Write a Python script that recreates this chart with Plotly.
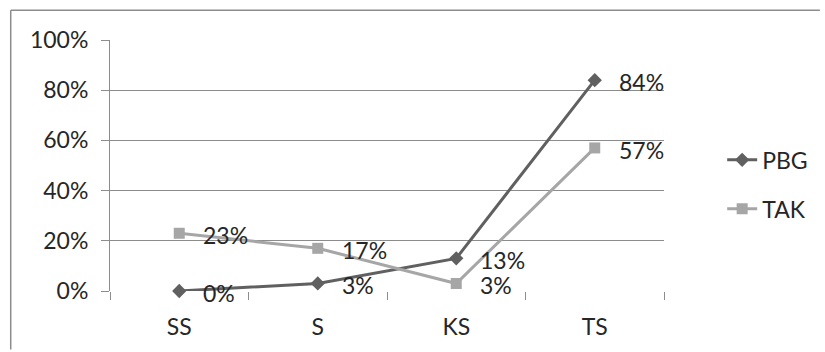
import plotly.graph_objects as go

categories = ["SS", "S", "KS", "TS"]
pbg = [0.00, 0.03, 0.13, 0.84]
tak = [0.23, 0.17, 0.03, 0.57]
y_ticks = [0, 0.2, 0.4, 0.6, 0.8, 1.0]
y_tick_labels = ["0%", "20%", "40%", "60%", "80%", "100%"]

FONT = "Lato, 'Open Sans', sans-serif"
TEXT = "#262626"
GRID = "#8c8c8c"
FS = 23

fig = go.Figure()


def pct(vals):
    return [f"{round(v * 100)}%" for v in vals]


series = [
    ("PBG", pbg, "#606060", "diamond"),
    ("TAK", tak, "#a6a6a6", "square"),
]

annotations = []
for name, vals, color, symbol in series:
    fig.add_trace(go.Scatter(
        x=categories, y=vals, name=name, mode="lines+markers",
        line=dict(color=color, width=3),
        marker=dict(symbol=symbol, size=11, color=color),
        legendgroup=name, cliponaxis=False,
    ))
    # value labels sit to the right of each point
    for c, v, t in zip(categories, vals, pct(vals)):
        annotations.append(dict(
            x=c, y=v, text=t, showarrow=False, xanchor="left",
            yanchor="middle", xshift=22, yshift=-2,
            font=dict(family=FONT, size=FS, color=TEXT),
        ))

fig.update_layout(
    width=825, height=352,
    margin=dict(l=110, r=157, t=40, b=59),
    paper_bgcolor="white", plot_bgcolor="white",
    font=dict(family=FONT, size=FS, color=TEXT),
    showlegend=True,
    legend=dict(
        x=1.105, xanchor="left", y=0.425, yanchor="middle",
        traceorder="grouped", tracegroupgap=16,
        font=dict(family=FONT, size=FS, color=TEXT),
        bgcolor="rgba(0,0,0,0)", itemwidth=30,
    ),
    xaxis=dict(
        type="category", range=[-0.5, 3.5],
        showgrid=False, zeroline=False, showline=False,
        ticks="outside", tickson="boundaries", ticklen=8,
        tickcolor=GRID, tickwidth=1, ticklabelstandoff=20,
        tickfont=dict(family=FONT, size=FS, color=TEXT),
    ),
    yaxis=dict(
        range=[0, 1], tickvals=y_ticks, ticktext=y_tick_labels,
        showgrid=True, gridcolor=GRID, gridwidth=1,
        zeroline=False, showline=True, linecolor=GRID, linewidth=1,
        ticks="outside", ticklen=8, tickcolor=GRID, ticklabelstandoff=8,
        tickfont=dict(family=FONT, size=FS, color=TEXT),
    ),
    annotations=annotations,
    shapes=[
        # chart frame (top and left edges)
        dict(type="line", xref="paper", yref="paper",
             x0=-100 / 558, x1=715 / 558, y0=1 + 30 / 253, y1=1 + 30 / 253,
             line=dict(color="#8c8c8c", width=1.5)),
        dict(type="line", xref="paper", yref="paper",
             x0=-100 / 558, x1=-100 / 558, y0=1 + 30 / 253, y1=-59 / 253,
             line=dict(color="#8c8c8c", width=1.5)),
    ],
)

fig.write_html("out.html")
